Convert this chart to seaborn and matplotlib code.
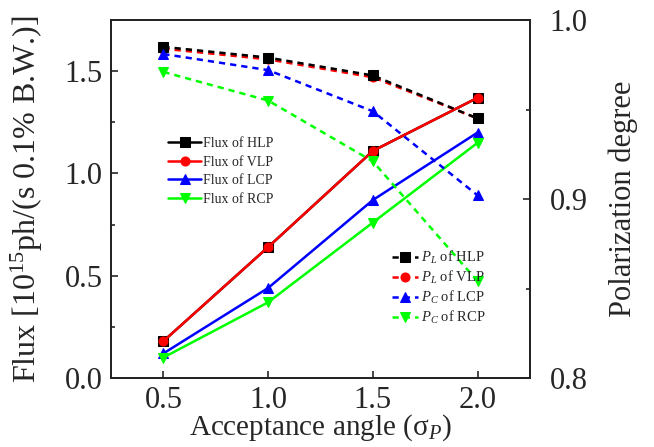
import matplotlib
matplotlib.use("Agg")
import matplotlib.pyplot as plt
import seaborn as sns
import numpy as np
import pandas as pd

angles = [0.5, 1.0, 1.5, 2.0]
flux_hlp = [0.18, 0.64, 1.11, 1.37]
flux_vlp = [0.18, 0.64, 1.11, 1.37]
flux_lcp = [0.12, 0.44, 0.87, 1.20]
flux_rcp = [0.10, 0.37, 0.76, 1.15]
pol_hlp = [0.985, 0.979, 0.969, 0.945]
pol_vlp = [0.984, 0.978, 0.968, 0.945]
pol_lcp = [0.981, 0.972, 0.949, 0.902]
pol_rcp = [0.971, 0.955, 0.921, 0.854]

sns.set_style("ticks")
plt.rcParams["font.family"] = ["Liberation Serif", "DejaVu Serif"]
plt.rcParams["mathtext.fontset"] = "custom"
plt.rcParams["mathtext.rm"] = "Liberation Serif"
plt.rcParams["mathtext.it"] = "Liberation Serif:italic"
plt.rcParams["mathtext.bf"] = "Liberation Serif:bold"
plt.rcParams["xtick.direction"] = "in"
plt.rcParams["ytick.direction"] = "in"

fig = plt.figure(figsize=(6.54, 4.47), dpi=100)
ax = fig.add_axes([111/654, 69/447, (530-111)/654, (378-20)/447])
ax2 = ax.twinx()

lw = 1.8
ms = 6.5
flux_series = [
    ("Flux of HLP", flux_hlp, "black", "s"),
    ("Flux of VLP", flux_vlp, "red", "o"),
    ("Flux of LCP", flux_lcp, "blue", "^"),
    ("Flux of RCP", flux_rcp, "#00ff00", "v"),
]
pol_series = [
    ("$P_L$ of HLP", pol_hlp, "black", "s"),
    ("$P_L$ of VLP", pol_vlp, "red", "o"),
    ("$P_C$ of LCP", pol_lcp, "blue", "^"),
    ("$P_C$ of RCP", pol_rcp, "#00ff00", "v"),
]

for lab, vals, col, mk in flux_series:
    df = pd.DataFrame({"x": angles, "y": vals})
    sns.lineplot(data=df, x="x", y="y", ax=ax, color=col, marker=mk, markersize=ms,
                 markeredgecolor=col, linewidth=lw, label=lab, legend=False)

order = [1, 0, 2, 3]
for i in order:
    lab, vals, col, mk = pol_series[i]
    df = pd.DataFrame({"x": angles, "y": vals})
    sns.lineplot(data=df, x="x", y="y", ax=ax2, color=col, marker=mk, markersize=ms,
                 markeredgecolor=col, linewidth=lw, linestyle=(0, (2.5, 2.0)),
                 label=lab, legend=False)

ax.set_xlim(0.25, 2.25)
ax.set_ylim(0, 1.75)
ax2.set_ylim(0.8, 1.0)
ax.set_xticks([0.5, 1.0, 1.5, 2.0])
ax.set_yticks([0.0, 0.5, 1.0, 1.5])
ax.set_yticks([0.25, 0.75, 1.25], minor=True)
ax2.set_yticks([0.8, 0.9, 1.0])
ax2.set_yticks([0.85, 0.95], minor=True)

for a in (ax, ax2):
    a.tick_params(axis="both", which="major", labelsize=22, length=5, width=1.2, direction="in")
    a.tick_params(axis="both", which="minor", length=3, width=1.2, direction="in")
    for s in a.spines.values():
        s.set_linewidth(1.3)
        s.set_color("#222222")
ax.tick_params(axis="y", which="major", pad=6)
ax.tick_params(axis="x", which="major", pad=6)
ax2.tick_params(axis="y", which="major", pad=14)

ax.set_xlabel("Acceptance angle (σ$_P$)", fontsize=21, labelpad=-2)
ax.set_ylabel("Flux [10$^{15}$ph/(s 0.1% B.W.)]", fontsize=23, labelpad=14)
ax2.set_ylabel("Polarization degree", fontsize=22, labelpad=15)

h1, l1 = ax.get_legend_handles_labels()
leg1 = ax.legend(h1, l1, loc="upper left", bbox_to_anchor=(0.136, 0.673), frameon=False,
                 fontsize=10, handlelength=2.4, handletextpad=0.15, labelspacing=0.4,
                 borderaxespad=0, borderpad=0)
h2, l2 = ax2.get_legend_handles_labels()
idx = [l2.index(p[0]) for p in pol_series]
leg2 = ax2.legend([h2[i] for i in idx], [l2[i] for i in idx], loc="upper left",
                  bbox_to_anchor=(0.671, 0.36), frameon=False, fontsize=10.5,
                  handlelength=1.8, handletextpad=0.15, labelspacing=0.2,
                  borderaxespad=0, borderpad=0)

fig.savefig("out.png", dpi=100)
